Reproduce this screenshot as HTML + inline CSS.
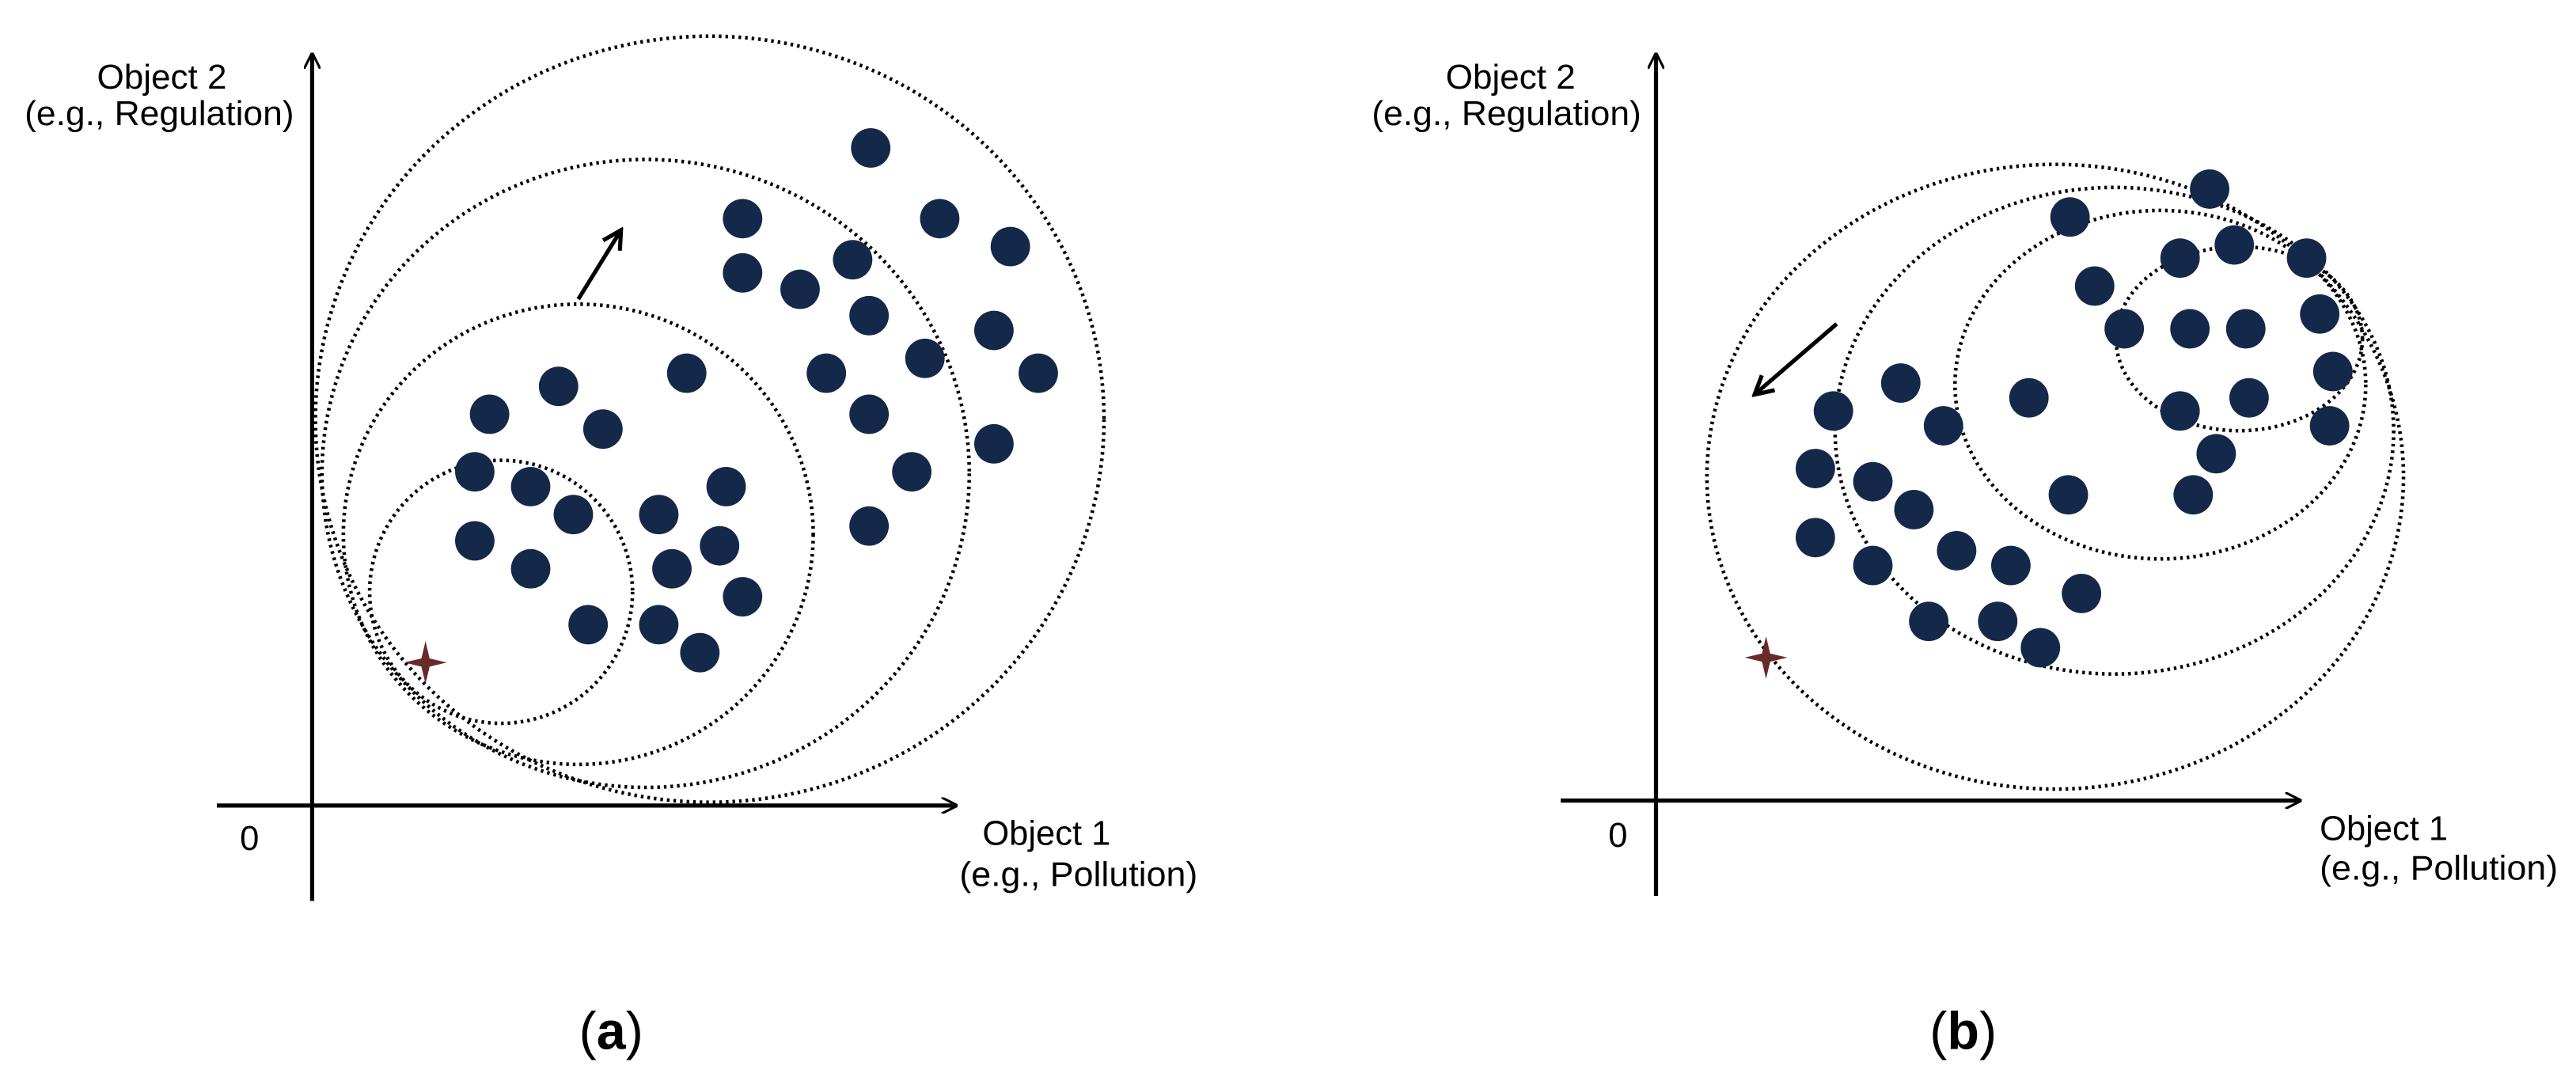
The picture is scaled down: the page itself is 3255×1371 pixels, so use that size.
<!DOCTYPE html>
<html><head><meta charset="utf-8"><style>
html,body{margin:0;padding:0;background:#fff;width:3255px;height:1371px;overflow:hidden}
svg{display:block}
text{font-family:"Liberation Sans",sans-serif;fill:#000}
</style></head><body>
<svg width="3255" height="1371" viewBox="0 0 1568 660" preserveAspectRatio="none">
<defs>
<marker id="ah" markerWidth="10" markerHeight="10" refX="9" refY="5" orient="auto" markerUnits="userSpaceOnUse">
<path d="M0,0 L10,5 L0,10" fill="none" stroke="#000" stroke-width="1.5"/></marker>
<marker id="ah2" markerWidth="14" markerHeight="14" refX="12" refY="7" orient="auto" markerUnits="userSpaceOnUse">
<path d="M1,1 L12,7 L1,13" fill="none" stroke="#000" stroke-width="2.5"/></marker>
</defs>
<g fill="none" stroke="#000" stroke-width="2.2" stroke-dasharray="1.6 2.4">
<ellipse cx="305" cy="360" rx="80" ry="80"/>
<ellipse cx="352" cy="325" rx="143" ry="140"/>
<ellipse cx="393" cy="288" rx="197" ry="191"/>
<ellipse cx="432" cy="255" rx="240" ry="233"/>
<ellipse cx="1251" cy="290" rx="212" ry="190"/>
<ellipse cx="1287" cy="262" rx="170" ry="148"/>
<ellipse cx="1315" cy="234" rx="125" ry="106"/>
<ellipse cx="1363" cy="206" rx="75" ry="56"/>
</g>
<g stroke="#000" stroke-width="2.5">
<line x1="190" y1="548" x2="190" y2="33" marker-end="url(#ah)"/>
<line x1="132" y1="490" x2="582" y2="490" marker-end="url(#ah)"/>
<line x1="1008" y1="545" x2="1008" y2="33" marker-end="url(#ah)"/>
<line x1="950" y1="487" x2="1400" y2="487" marker-end="url(#ah)"/>
<line x1="352" y1="182" x2="378" y2="140" marker-end="url(#ah2)"/>
<line x1="1118" y1="197" x2="1068" y2="240" marker-end="url(#ah2)"/>
</g>
<g fill="#6b2a2a">
<path d="M259,390 L261.5,400.5 L272,403 L261.5,405.5 L259,416 L256.5,405.5 L246,403 L256.5,400.5Z"/>
<path d="M1075,387 L1077.5,397.5 L1088,400 L1077.5,402.5 L1075,413 L1072.5,402.5 L1062,400 L1072.5,397.5Z"/>
</g>
<g fill="#14284a">
<circle cx="530" cy="90" r="12"/><circle cx="452" cy="133" r="12"/><circle cx="572" cy="133" r="12"/><circle cx="615" cy="150" r="12"/><circle cx="452" cy="166" r="12"/><circle cx="487" cy="176" r="12"/><circle cx="519" cy="158" r="12"/><circle cx="529" cy="192" r="12"/><circle cx="605" cy="201" r="12"/><circle cx="632" cy="227" r="12"/><circle cx="563" cy="218" r="12"/><circle cx="503" cy="227" r="12"/><circle cx="529" cy="252" r="12"/><circle cx="418" cy="227" r="12"/><circle cx="555" cy="287" r="12"/><circle cx="605" cy="270" r="12"/><circle cx="529" cy="320" r="12"/><circle cx="298" cy="252" r="12"/><circle cx="340" cy="235" r="12"/><circle cx="367" cy="261" r="12"/><circle cx="289" cy="287" r="12"/><circle cx="323" cy="296" r="12"/><circle cx="349" cy="313" r="12"/><circle cx="401" cy="313" r="12"/><circle cx="442" cy="296" r="12"/><circle cx="289" cy="329" r="12"/><circle cx="323" cy="346" r="12"/><circle cx="409" cy="346" r="12"/><circle cx="438" cy="332" r="12"/><circle cx="452" cy="363" r="12"/><circle cx="358" cy="380" r="12"/><circle cx="401" cy="380" r="12"/><circle cx="426" cy="397" r="12"/>
<circle cx="1345" cy="115" r="12"/><circle cx="1260" cy="132" r="12"/><circle cx="1327" cy="157" r="12"/><circle cx="1360" cy="149" r="12"/><circle cx="1404" cy="157" r="12"/><circle cx="1275" cy="174" r="12"/><circle cx="1293" cy="200" r="12"/><circle cx="1333" cy="200" r="12"/><circle cx="1367" cy="200" r="12"/><circle cx="1412" cy="191" r="12"/><circle cx="1420" cy="226" r="12"/><circle cx="1327" cy="250" r="12"/><circle cx="1369" cy="242" r="12"/><circle cx="1418" cy="259" r="12"/><circle cx="1349" cy="276" r="12"/><circle cx="1335" cy="301" r="12"/><circle cx="1259" cy="301" r="12"/><circle cx="1235" cy="242" r="12"/><circle cx="1157" cy="233" r="12"/><circle cx="1116" cy="250" r="12"/><circle cx="1183" cy="259" r="12"/><circle cx="1105" cy="285" r="12"/><circle cx="1140" cy="293" r="12"/><circle cx="1165" cy="310" r="12"/><circle cx="1105" cy="327" r="12"/><circle cx="1140" cy="344" r="12"/><circle cx="1191" cy="335" r="12"/><circle cx="1224" cy="344" r="12"/><circle cx="1267" cy="361" r="12"/><circle cx="1174" cy="378" r="12"/><circle cx="1216" cy="378" r="12"/><circle cx="1242" cy="394" r="12"/>
</g>
<g font-size="21">
<text x="59" y="54" textLength="79" lengthAdjust="spacingAndGlyphs">Object 2</text>
<text x="15" y="76" textLength="164" lengthAdjust="spacingAndGlyphs">(e.g., Regulation)</text>
<text x="880" y="54" textLength="79" lengthAdjust="spacingAndGlyphs">Object 2</text>
<text x="835" y="76" textLength="164" lengthAdjust="spacingAndGlyphs">(e.g., Regulation)</text>
<text x="146" y="517">0</text><text x="979" y="515">0</text>
<text x="598" y="514" textLength="78" lengthAdjust="spacingAndGlyphs">Object 1</text>
<text x="584" y="539" textLength="145" lengthAdjust="spacingAndGlyphs">(e.g., Pollution)</text>
<text x="1412" y="511" textLength="78" lengthAdjust="spacingAndGlyphs">Object 1</text>
<text x="1412" y="535" textLength="145" lengthAdjust="spacingAndGlyphs">(e.g., Pollution)</text>
</g>
<g font-size="32" text-anchor="middle" style="font-family:'Liberation Serif',serif">
<text x="372" y="638">(<tspan font-weight="bold">a</tspan>)</text>
<text x="1195" y="638">(<tspan font-weight="bold">b</tspan>)</text>
</g>
</svg>
</body></html>
